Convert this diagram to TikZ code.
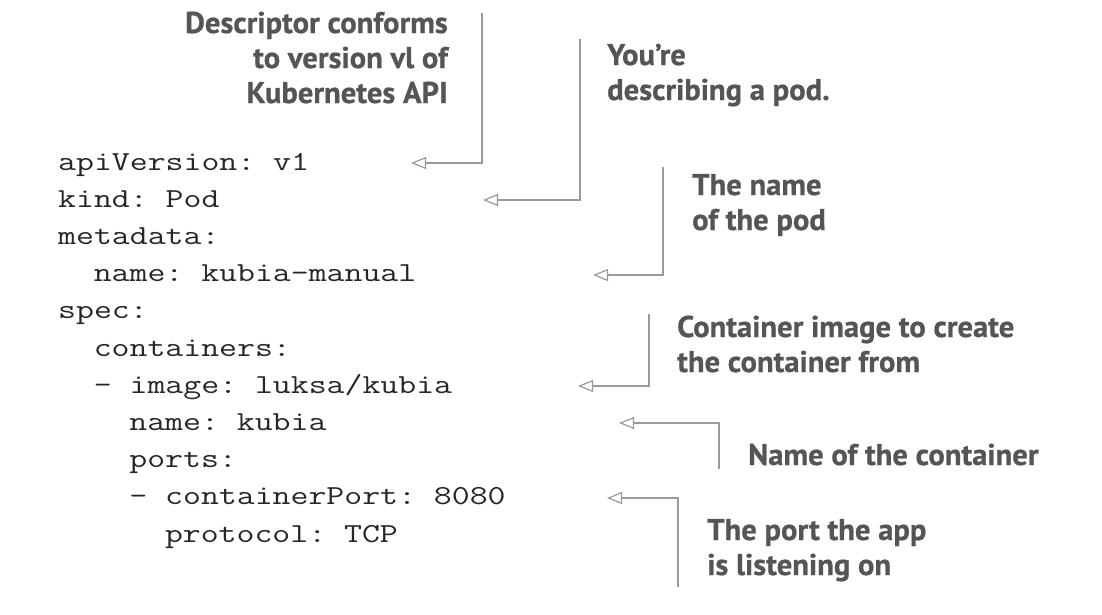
\documentclass[tikz,border=0pt]{standalone}
\usepackage{fontspec}
\usetikzlibrary{arrows.meta}
\frenchspacing
\newfontfamily\codefont[FakeStretch=1.265]{Latin Modern Mono}
\newfontfamily\notefont[FakeStretch=1.02, BoldFeatures={FakeBold=0.7}]{PT Sans}
\definecolor{notegray}{HTML}{555555}
\definecolor{codecol}{HTML}{262626}
\definecolor{linegray}{HTML}{9A9A9A}
\tikzset{
  codeline/.style={anchor=base west, inner sep=0pt, text=codecol, font=\codefont\frenchspacing\fontsize{27.5}{37}\selectfont},
  noteL/.style={anchor=base west, inner sep=0pt, align=left, text=notegray, font=\notefont\bfseries\fontsize{30}{35}\selectfont},
  noteR/.style={anchor=base east, inner sep=0pt, align=right, text=notegray, font=\notefont\bfseries\fontsize{30}{35}\selectfont},
  conn/.style={draw=linegray, line width=1.2pt, -{Triangle[open, length=15pt, width=12pt, fill=white]}}
}
\begin{document}
\begin{tikzpicture}[x=1pt,y=-1pt]
\useasboundingbox (0,0) rectangle (1102,614);
% code
\node[codeline] (c1)  at (58,170)    {apiVersion: v1};
\node[codeline] (c2)  at (58,207.2)  {kind: Pod};
\node[codeline] (c3)  at (58,244.4)  {metadata:};
\node[codeline] (c4)  at (93.6,281.6) {name: kubia-manual};
\node[codeline] (c5)  at (58,318.8)  {spec:};
\node[codeline] (c6)  at (93.6,356)  {containers:};
\node[codeline] (c7)  at (93.6,393.2) {- image: luksa/kubia};
\node[codeline] (c8)  at (129.2,430.4) {name: kubia};
\node[codeline] (c9)  at (129.2,467.6) {ports:};
\node[codeline] (c10) at (129.2,504.8) {- containerPort: 8080};
\node[codeline] (c11) at (164.8,542) {protocol: TCP};
% notes (anchored at the baseline of their last line)
\node[noteR] (n1) at (448,103) {Descriptor conforms\\to version vl of\\Kubernetes API};
\node[noteL] (n2) at (607,100) {You’re\\describing a pod.};
\node[noteL] (n3) at (692,230) {The name\\of the pod};
\node[noteL] (n4) at (677,372) {Container image to create\\the container from};
\node[noteL] (n5) at (748,465) {Name of the container};
\node[noteL] (n6) at (707,575) {The port the app\\is listening on};
% connector ends
\coordinate (s1) at (482,13);   \coordinate (e1) at (411,163);
\coordinate (s2) at (580,39);   \coordinate (e2) at (483,200);
\coordinate (s3) at (663,167);  \coordinate (e3) at (593,275);
\coordinate (s4) at (649,314);  \coordinate (e4) at (578,386);
\coordinate (s5) at (719,469);  \coordinate (e5) at (619,423);
\coordinate (s6) at (678,587);  \coordinate (e6) at (607,498);
\draw[conn] (s1) |- (e1);
\draw[conn] (s2) |- (e2);
\draw[conn] (s3) |- (e3);
\draw[conn] (s4) |- (e4);
\draw[conn] (s5) |- (e5);
\draw[conn] (s6) |- (e6);
\end{tikzpicture}
\end{document}
